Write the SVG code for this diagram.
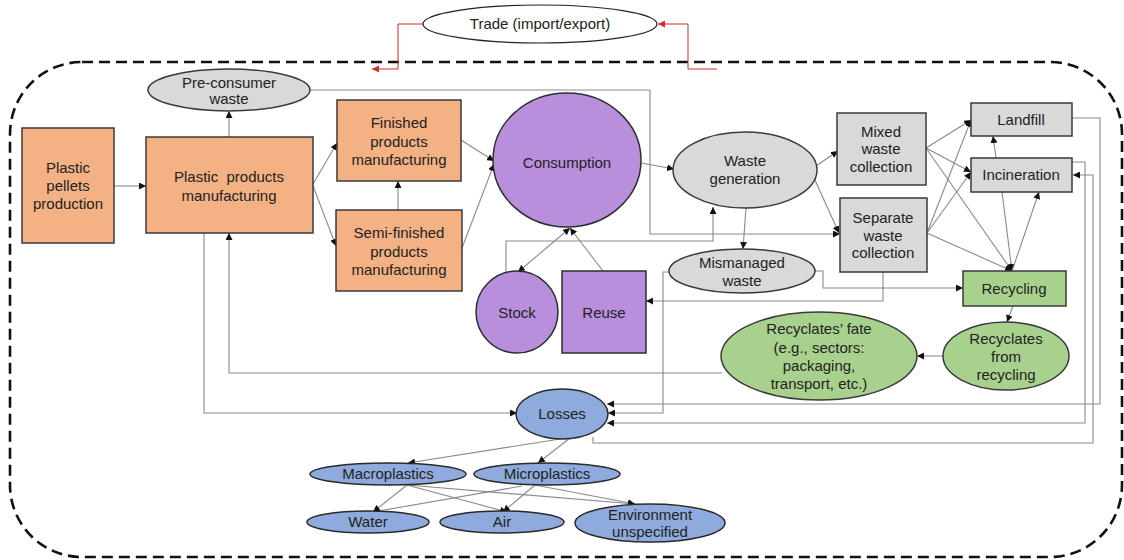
<svg xmlns="http://www.w3.org/2000/svg" width="1124" height="560" viewBox="0 0 1124 560">
<defs>
<marker id="ah" viewBox="0 0 10 10" refX="10" refY="5" markerWidth="7" markerHeight="7" markerUnits="userSpaceOnUse" orient="auto-start-reverse"><path d="M0,0 L10,5 L0,10 z" fill="#111"/></marker>
<marker id="ahr" viewBox="0 0 10 10" refX="10" refY="5" markerWidth="7" markerHeight="7" markerUnits="userSpaceOnUse" orient="auto"><path d="M0,0 L10,5 L0,10 z" fill="#d42a2a"/></marker>
</defs>
<style>
text{font-family:"Liberation Sans",Arial,sans-serif;font-size:15px;fill:#222;text-anchor:middle}
.or{fill:#f4b183;stroke:#3a3a3a;stroke-width:1.5}
.pu{fill:#b98fdd;stroke:#2e2e2e;stroke-width:1.5}
.gr{fill:#d9d9d9;stroke:#3a3a3a;stroke-width:1.5}
.gn{fill:#a9d18e;stroke:#3a3a3a;stroke-width:1.5}
.bl{fill:#8faadc;stroke:#2a2a2a;stroke-width:1.5}
.wh{fill:#fff;stroke:#222;stroke-width:1.2}
.c{fill:none;stroke:#8a8a8a;stroke-width:1.1}
.a{marker-end:url(#ah)}
.r{fill:none;stroke:#d42a2a;stroke-width:1;marker-end:url(#ahr)}
</style>
<rect x="10" y="62" width="1112" height="495" rx="72" fill="none" stroke="#111" stroke-width="2.6" stroke-dasharray="11 6"/>
<g id="connectors">
<path class="r" d="M424,24 H398 V69 H372"/>
<path class="r" d="M717,69 H688 V24 H658"/>
<path class="c a" d="M114,186 H146"/>
<path class="c a" d="M229,137 V111"/>
<path class="c a" d="M313,184 L337,143"/>
<path class="c a" d="M313,186 L336,246"/>
<path class="c a" d="M398,210 V181"/>
<path class="c a" d="M461,140 L494,161"/>
<path class="c a" d="M462,248 L494,164"/>
<path class="c a" d="M641,163 L674,169"/>
<path class="c a" d="M310,90 H650 V234 H840"/>
<path class="c a" d="M506,272 V241 H713 V207"/>
<path class="c" d="M570,228 L518,272" marker-start="url(#ah)" marker-end="url(#ah)"/>
<path class="c a" d="M603,271 L570,228"/>
<path class="c a" d="M746,208 L743,249"/>
<path class="c a" d="M816,166 L838,151"/>
<path class="c a" d="M814,178 L839,233"/>
<path class="c a" d="M815,271 H823 V288 H963"/>
<path class="c a" d="M883,272 V301 H646"/>
<path class="c a" d="M669,272 H663 V413 H608"/>
<path class="c a" d="M926,148 L971,120"/>
<path class="c a" d="M926,148 L971,172"/>
<path class="c a" d="M926,148 L1012,271"/>
<path class="c a" d="M927,233 L971,120"/>
<path class="c a" d="M927,233 L971,172"/>
<path class="c a" d="M927,233 L1012,271"/>
<path class="c a" d="M996,158 L993,136"/>
<path class="c a" d="M1002,192 L1012,271"/>
<path class="c a" d="M1012,271 L1039,192"/>
<path class="c a" d="M1013,306 L1007,322"/>
<path class="c a" d="M943,356 L917,356"/>
<path class="c a" d="M722,373 H229 V233"/>
<path class="c a" d="M204,233 V413 H517"/>
<path class="c a" d="M1072,118 H1100 V404 H607"/>
<path class="c a" d="M1072,162 H1085 V423 H607"/>
<path class="c a" d="M593,437 V443 H1093 V175 H1073"/>
<path class="c a" d="M560,439 L408,463"/>
<path class="c a" d="M570,438 L538,463"/>
<path class="c a" d="M407,485 L373,512"/>
<path class="c a" d="M407,485 L507,512"/>
<path class="c a" d="M407,485 L635,504"/>
<path class="c a" d="M522,486 L373,512"/>
<path class="c a" d="M535,485 L503,512"/>
<path class="c a" d="M535,485 L635,504"/>
</g>
<g id="trade"><ellipse class="wh" cx="540" cy="24" rx="117" ry="19"/><text x="540" y="29">Trade (import/export)</text></g>
<g id="preconsumer"><ellipse class="gr" cx="229" cy="90" rx="81" ry="21"/><text x="229" y="88">Pre-consumer</text><text x="229" y="104">waste</text></g>
<g id="pellets"><rect class="or" x="22" y="128" width="92" height="115"/><text x="68" y="173">Plastic</text><text x="68" y="191">pellets</text><text x="68" y="209">production</text></g>
<g id="products"><rect class="or" x="146" y="137" width="167" height="96"/><text x="229" y="182" xml:space="preserve">Plastic  products</text><text x="229" y="201">manufacturing</text></g>
<g id="finished"><rect class="or" x="337" y="100" width="124" height="81"/><text x="399" y="128">Finished</text><text x="399" y="147">products</text><text x="399" y="165">manufacturing</text></g>
<g id="semifinished"><rect class="or" x="336" y="210" width="126" height="81"/><text x="399" y="238">Semi-finished</text><text x="399" y="257">products</text><text x="399" y="275">manufacturing</text></g>
<g id="consumption"><ellipse class="pu" cx="567" cy="160" rx="74" ry="67"/><text x="567" y="168">Consumption</text></g>
<g id="stock"><circle class="pu" cx="517" cy="312" r="41"/><text x="517" y="318">Stock</text></g>
<g id="reuse"><rect class="pu" x="562" y="271" width="84" height="82"/><text x="604" y="318">Reuse</text></g>
<g id="wastegen"><ellipse class="gr" cx="745" cy="170" rx="72" ry="38"/><text x="745" y="166">Waste</text><text x="745" y="184">generation</text></g>
<g id="mismanaged"><ellipse class="gr" cx="742" cy="271" rx="73" ry="22"/><text x="742" y="268">Mismanaged</text><text x="742" y="286">waste</text></g>
<g id="mixed"><rect class="gr" x="837" y="113" width="89" height="72"/><text x="881" y="137">Mixed</text><text x="881" y="154">waste</text><text x="881" y="172">collection</text></g>
<g id="separate"><rect class="gr" x="840" y="198" width="87" height="74"/><text x="883" y="223">Separate</text><text x="883" y="241">waste</text><text x="883" y="258">collection</text></g>
<g id="landfill"><rect class="gr" x="971" y="103" width="101" height="33"/><text x="1021" y="125">Landfill</text></g>
<g id="incineration"><rect class="gr" x="971" y="158" width="101" height="34"/><text x="1021" y="180">Incineration</text></g>
<g id="recycling"><rect class="gn" x="963" y="271" width="103" height="35"/><text x="1014" y="294">Recycling</text></g>
<g id="recyclatesfrom"><ellipse class="gn" cx="1006" cy="356" rx="63" ry="34"/><text x="1006" y="344">Recyclates</text><text x="1006" y="362">from</text><text x="1006" y="380">recycling</text></g>
<g id="recyclatesfate"><ellipse class="gn" cx="819" cy="356" rx="98" ry="44"/><text x="819" y="334">Recyclates’ fate</text><text x="819" y="353">(e.g., sectors:</text><text x="819" y="371">packaging,</text><text x="819" y="389">transport, etc.)</text></g>
<g id="losses"><ellipse class="bl" cx="562" cy="414" rx="46" ry="25"/><text x="562" y="419">Losses</text></g>
<g id="macro"><ellipse class="bl" cx="388" cy="474" rx="78" ry="11"/><text x="388" y="479">Macroplastics</text></g>
<g id="micro"><ellipse class="bl" cx="547" cy="474" rx="73" ry="11"/><text x="547" y="479">Microplastics</text></g>
<g id="water"><ellipse class="bl" cx="368" cy="522" rx="61" ry="11"/><text x="368" y="527">Water</text></g>
<g id="air"><ellipse class="bl" cx="502" cy="522" rx="62" ry="11"/><text x="502" y="527">Air</text></g>
<g id="environment"><ellipse class="bl" cx="650" cy="523" rx="75" ry="19"/><text x="650" y="520">Environment</text><text x="650" y="537">unspecified</text></g>
</svg>
